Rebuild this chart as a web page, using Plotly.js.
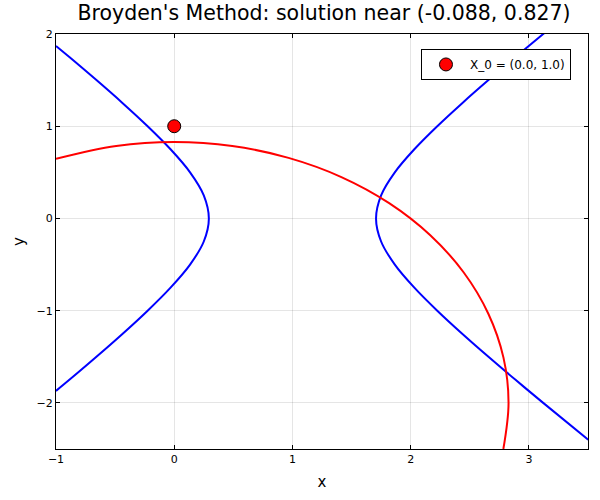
<!DOCTYPE html>
<html>
<head>
<meta charset="utf-8">
<script src="https://cdn.plot.ly/plotly-3.0.1.min.js"></script>
<style>html,body{margin:0;padding:0;background:#fff;}#plot{width:600px;height:500px;}</style>
</head>
<body>
<div id="plot"></div>
<script>
// Blue curve, left branch
const blueLeftX = [-1.0, -0.887, -0.658, -0.436, -0.225, -0.031, 0.134, 0.25, 0.293, 0.25, 0.134, -0.031, -0.225, -0.436, -0.658, -0.887, -1.0];
const blueLeftY = [1.87, 1.75, 1.5, 1.25, 1.0, 0.75, 0.5, 0.25, 0.0, -0.25, -0.5, -0.75, -1.0, -1.25, -1.5, -1.75, -1.87];
// Blue curve, right branch
const blueRightX = [3.502, 3.121, 2.887, 2.658, 2.436, 2.225, 2.031, 1.866, 1.75, 1.707, 1.75, 1.866, 2.031, 2.225, 2.436, 2.658, 2.887, 3.121, 3.502];
const blueRightY = [-2.4, -2.0, -1.75, -1.5, -1.25, -1.0, -0.75, -0.5, -0.25, 0.0, 0.25, 0.5, 0.75, 1.0, 1.25, 1.5, 1.75, 2.0, 2.4];
// Red curve
const redX = [-1.0, -0.491, 0.0, 0.491, 0.967, 1.414, 1.818, 2.166, 2.449, 2.657, 2.785, 2.828, 2.784];
const redY = [0.646, 0.785, 0.828, 0.785, 0.657, 0.449, 0.166, -0.182, -0.586, -1.033, -1.509, -2.0, -2.5];
// Starting point
const startX = [0.0];
const startY = [1.0];
const startLabel = "X_0 = (0.0, 1.0)";
const titleText = "Broyden's Method: solution near (-0.088, 0.827)";

const font = "DejaVu Sans, sans-serif";
const traces = [
  {x: blueLeftX, y: blueLeftY, mode: 'lines', line: {color: '#0000ff', width: 2, shape: 'spline'}, showlegend: false, hoverinfo: 'skip'},
  {x: blueRightX, y: blueRightY, mode: 'lines', line: {color: '#0000ff', width: 2, shape: 'spline'}, showlegend: false, hoverinfo: 'skip'},
  {x: redX, y: redY, mode: 'lines', line: {color: '#ff0000', width: 2, shape: 'spline'}, showlegend: false, hoverinfo: 'skip'},
  {x: startX, y: startY, mode: 'markers', name: startLabel, marker: {color: '#ff0000', size: 13, line: {color: '#000000', width: 1}}}
];
const axisCommon = {
  showline: true, linecolor: '#000', linewidth: 1, mirror: 'ticks',
  ticks: 'inside', ticklen: 4, tickcolor: '#000', tickwidth: 1,
  showgrid: true, gridcolor: 'rgba(0,0,0,0.1)', gridwidth: 1,
  zeroline: false, tickfont: {family: font, size: 11, color: '#000'}
};
const layout = {
  width: 600, height: 500,
  margin: {l: 56, r: 12, t: 34, b: 51},
  paper_bgcolor: '#fff', plot_bgcolor: '#fff',
  title: {text: titleText, font: {family: font, size: 20.5, color: '#000'}, x: 0.54, xanchor: 'center', y: 0.975, yanchor: 'middle'},
  xaxis: Object.assign({}, axisCommon, {range: [-1, 3.5], tickvals: [-1, 0, 1, 2, 3], title: {text: 'x', font: {family: font, size: 15, color: '#000'}, standoff: 11}}),
  yaxis: Object.assign({}, axisCommon, {range: [-2.5, 2], tickvals: [-2, -1, 0, 1, 2], title: {text: 'y', font: {family: font, size: 15, color: '#000'}, standoff: 8}}),
  legend: {x: 0.968, xanchor: 'right', y: 0.964, yanchor: 'top', bordercolor: '#000', borderwidth: 1, bgcolor: '#fff', itemwidth: 38, font: {family: font, size: 12, color: '#000'}},
  showlegend: true
};
Plotly.newPlot('plot', traces, layout, {displayModeBar: false, staticPlot: true});
</script>
</body>
</html>
